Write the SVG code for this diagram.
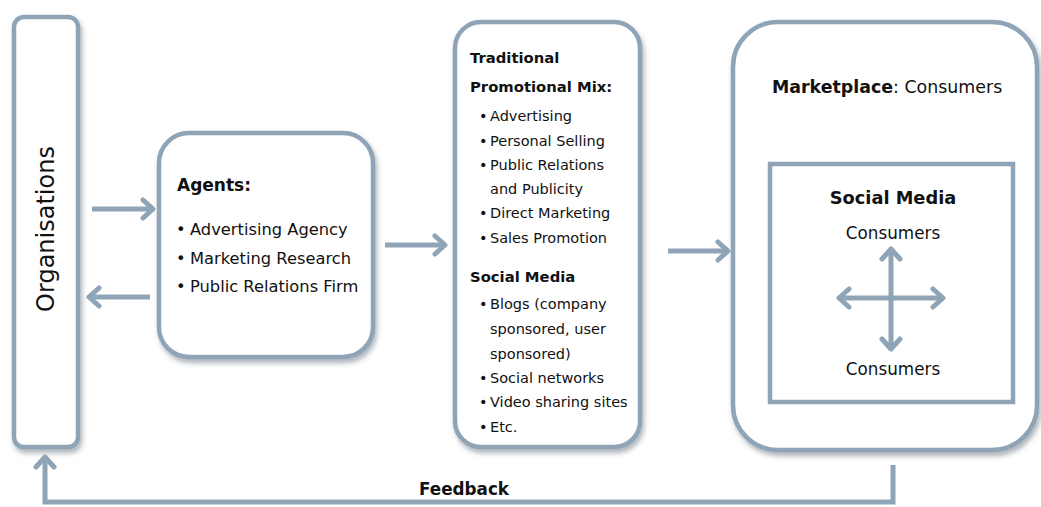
<svg xmlns="http://www.w3.org/2000/svg" width="1041" height="507" viewBox="0 0 1041 507">
<style>
.box{fill:#ffffff;stroke:#8fa5b7;stroke-width:4.5}
.ln{fill:none;stroke:#8fa5b7;stroke-width:5}
.t{font-family:"DejaVu Sans","Liberation Sans",sans-serif;fill:#111111}
.b{font-weight:bold}
</style>
<defs>
<filter id="sh" x="-10%" y="-10%" width="125%" height="125%">
<feDropShadow dx="2" dy="4" stdDeviation="2.5" flood-color="#4a5a68" flood-opacity="0.45"/>
</filter>
<marker id="ah" markerUnits="userSpaceOnUse" viewBox="0 0 20 24" markerWidth="20" markerHeight="24" refX="11" refY="12" orient="auto-start-reverse">
<path d="M4,3 L14,12 L4,21" fill="none" stroke="#8fa5b7" stroke-width="5" stroke-linecap="round" stroke-linejoin="round"/>
</marker>
</defs>
<rect width="1041" height="507" fill="#ffffff"/>

<g id="organisations">
<rect class="box" x="14" y="17" width="64" height="430" rx="10" filter="url(#sh)"/>
<text class="t" font-size="24" transform="translate(54,229) rotate(-90)" text-anchor="middle">Organisations</text>
</g>

<g id="agents">
<rect class="box" x="159" y="133" width="214" height="224" rx="30" filter="url(#sh)"/>
<text class="t b" x="177" y="191" font-size="17">Agents:</text>
<g class="t" font-size="16.3">
<text x="176" y="235">•</text><text x="190" y="235">Advertising Agency</text>
<text x="176" y="264">•</text><text x="190" y="264">Marketing Research</text>
<text x="176" y="292">•</text><text x="190" y="292">Public Relations Firm</text>
</g>
</g>

<g id="promotional-mix">
<rect class="box" x="455" y="22" width="185" height="425" rx="26" filter="url(#sh)"/>
<g class="t b" font-size="14.8">
<text x="470" y="63">Traditional</text>
<text x="470" y="92">Promotional Mix:</text>
<text x="470" y="282">Social Media</text>
</g>
<g class="t" font-size="14.5">
<text x="479" y="121">•</text><text x="490" y="121">Advertising</text>
<text x="479" y="146">•</text><text x="490" y="146">Personal Selling</text>
<text x="479" y="170">•</text><text x="490" y="170">Public Relations</text>
<text x="490" y="194">and Publicity</text>
<text x="479" y="218">•</text><text x="490" y="218">Direct Marketing</text>
<text x="479" y="243">•</text><text x="490" y="243">Sales Promotion</text>
<text x="479" y="309">•</text><text x="490" y="309">Blogs (company</text>
<text x="490" y="334">sponsored, user</text>
<text x="490" y="359">sponsored)</text>
<text x="479" y="383">•</text><text x="490" y="383">Social networks</text>
<text x="479" y="407">•</text><text x="490" y="407">Video sharing sites</text>
<text x="479" y="432">•</text><text x="490" y="432">Etc.</text>
</g>
</g>

<g id="marketplace">
<rect class="box" x="733" y="22" width="304" height="428" rx="45" filter="url(#sh)"/>
<text class="t" x="772" y="93" font-size="17.4"><tspan class="b">Marketplace</tspan>: Consumers</text>
</g>

<g id="social-media">
<rect x="770" y="164" width="243" height="238" fill="#ffffff" stroke="#8fa5b7" stroke-width="4.5"/>
<text class="t b" x="893" y="204" font-size="17.8" text-anchor="middle">Social Media</text>
<text class="t" x="893" y="239" font-size="16.8" text-anchor="middle">Consumers</text>
<text class="t" x="893" y="375" font-size="16.8" text-anchor="middle">Consumers</text>
</g>

<g id="connectors">
<path class="ln" d="M92,209 H150" marker-end="url(#ah)"/>
<path class="ln" d="M150,297 H92" marker-end="url(#ah)"/>
<path class="ln" d="M385,245 H442" marker-end="url(#ah)"/>
<path class="ln" d="M668,251 H725" marker-end="url(#ah)"/>
<path class="ln" d="M891,252 V346" marker-start="url(#ah)" marker-end="url(#ah)"/>
<path class="ln" d="M842,298 H940" marker-start="url(#ah)" marker-end="url(#ah)"/>
<path class="ln" d="M893,465 V502 H45 V460" marker-end="url(#ah)"/>
<text class="t b" x="464" y="495" font-size="16.8" text-anchor="middle">Feedback</text>
</g>
</svg>
